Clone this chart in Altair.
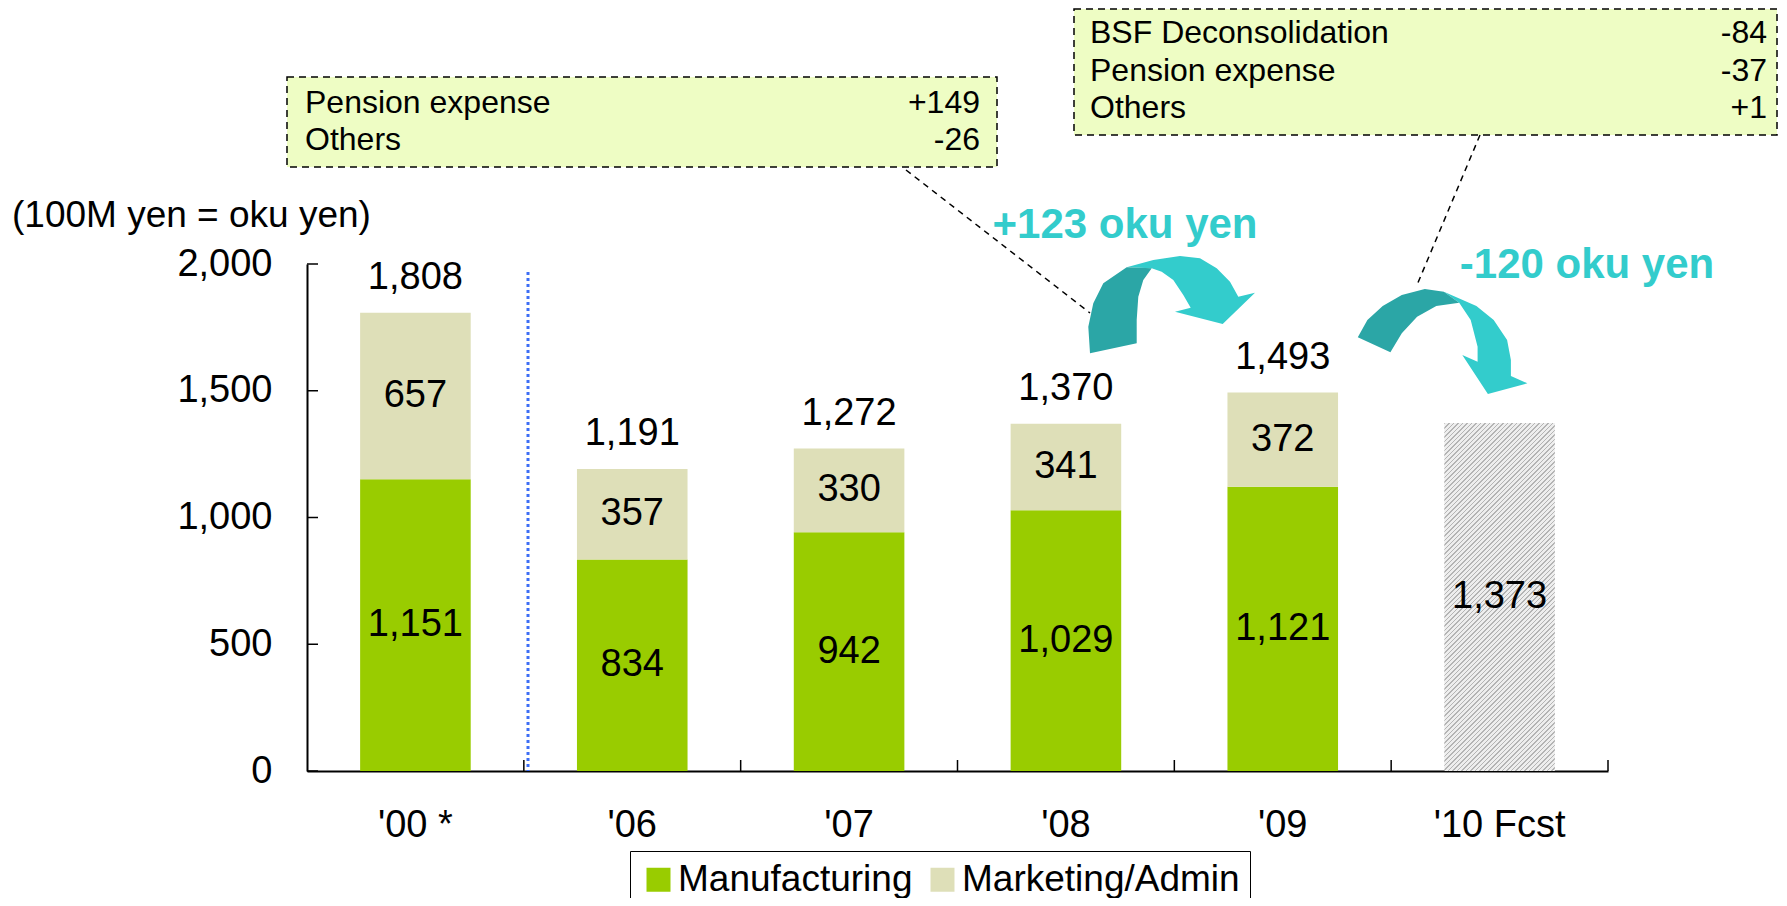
import altair as alt
import pandas as pd

# ---------------- data ----------------
years = ["'00 *", "'06", "'07", "'08", "'09", "'10 Fcst"]
actual_years = ["'00 *", "'06", "'07", "'08", "'09"]
manufacturing = [1151, 834, 942, 1029, 1121]
marketing_admin = [657, 357, 330, 341, 372]
forecast_year = ["'10 Fcst"]
forecast_total = [1373]
segments = ["Manufacturing", "Marketing/Admin"]
y_ticks = [0, 500, 1000, 1500, 2000]
y_title = "(100M yen = oku yen)"
box1_items = ["Pension expense", "Others"]
box1_values = ["+149", "-26"]
box2_items = ["BSF Deconsolidation", "Pension expense", "Others"]
box2_values = ["-84", "-37", "+1"]
change_labels = ["+123 oku yen", "-120 oku yen"]

# ---------------- style ----------------
FONT = "Liberation Sans, Arial, Helvetica, sans-serif"
W, H = 1301, 507
PAD = {"left": 299, "top": 256, "right": 171, "bottom": 127}
PAD_INNER = 0.49
STEP = W / len(years)
FS = 38
GREEN = "#99CC00"
BEIGE = "#DEDFB8"
BOX_FILL = "#EEFDC4"
TEAL = "#33CCCC"
TEAL_DARK = "#2BA6A6"
BLUE = "#3D6EF5"

# hatch pattern for forecast bar, emulated with a hard-stop linear gradient
bar_w = STEP * (1 - PAD_INNER)
bar_h = forecast_total[0] / 2000 * H
ratio = bar_h / bar_w
span = bar_w * (1 + ratio * ratio)
period, stripe = 4.5, 1.7
stops = []
s = 0.0
while s < bar_w + bar_h + period:
    a, b, c = s / span, (s + stripe) / span, (s + period) / span
    stops += [alt.GradientStop(color="#B4B4B4", offset=a),
              alt.GradientStop(color="#B4B4B4", offset=b),
              alt.GradientStop(color="#EEEEEE", offset=b),
              alt.GradientStop(color="#EEEEEE", offset=c)]
    s += period
hatch = alt.LinearGradient(gradient="linear", stops=stops, x1=0, y1=0, x2=1, y2=ratio)

# curved arrow shapes (pixel units relative to their anchor; size=4 -> 1 unit = 1px)
arrow1_dark = [(-80, 53.3), (-81.7, 26.7), (-76.7, 3.3), (-66.7, -16.7), (-43.3, -32.7),
               (-18.3, -31.7), (-26.7, -20), (-31.7, -3.3), (-33.3, 20), (-33.3, 43.3)]
arrow1_light = [(-43.3, -32.7), (-16.7, -40), (10, -44), (30, -41.7), (46.7, -31.7),
                (60, -18.3), (68.3, -3.3), (85, -7.3), (52.7, 24), (5, 11.7),
                (20.7, 7.7), (13.3, -5), (3.3, -20), (-8.3, -28.3), (-18.3, -31.7)]
arrow2_dark = [(-82.2, -2.7), (-72.6, -20), (-57.3, -34), (-38.2, -45), (-15.2, -51),
               (3.9, -48.3), (19.2, -37.3), (-3.7, -34), (-22.9, -23.3), (-38.2, -6.7),
               (-49.6, 12.3)]
arrow2_light = [(3.9, -48.3), (36.4, -34), (53.7, -20), (67.1, 0), (70.9, 20), (70.9, 36),
                (87.4, 43.3), (47.9, 54), (22.3, 15), (37.6, 21.7), (37.6, 6.7),
                (30.7, -20), (19.2, -37.3)]


def to_path(pts):
    return "M" + " L".join(f"{x:.1f},{y:.1f}" for x, y in pts) + " Z"


# ---------------- tables ----------------
rows = []
for yr, m, k in zip(actual_years, manufacturing, marketing_admin):
    rows.append({"year": yr, "segment": segments[0], "value": m, "order": 0})
    rows.append({"year": yr, "segment": segments[1], "value": k, "order": 1})
seg_df = pd.DataFrame(rows)
tot_df = pd.DataFrame({"year": actual_years,
                       "total": [m + k for m, k in zip(manufacturing, marketing_admin)]})
fc_df = pd.DataFrame({"year": forecast_year, "value": forecast_total})

x_scale = alt.Scale(domain=years, paddingInner=PAD_INNER, paddingOuter=PAD_INNER / 2)
y_scale = alt.Scale(domain=[0, 2000], nice=False, zero=True)

x_axis = alt.Axis(title=None, ticks=False, tickSize=0, labelPadding=35, labelFontSize=FS,
                  labelColor="black", labelAngle=0, domainColor="black", domainWidth=2,
                  grid=False, labelLimit=400)
y_axis = alt.Axis(title=None, values=y_ticks, ticks=False, tickSize=0, labelPadding=35,
                  labelFontSize=FS, labelColor="black", domainColor="black", domainWidth=2,
                  grid=False, format=",.0f")

legend = alt.Legend(orient="none", legendX=323, legendY=587, direction="horizontal",
                    title=None, padding=10, strokeColor="black", symbolType="square",
                    symbolSize=576, symbolStrokeWidth=0, labelFontSize=37, labelOffset=1,
                    columnPadding=11, labelLimit=500, labelColor="black")


def xenc():
    return alt.X("year:N", scale=x_scale, axis=x_axis)


def yenc(field):
    return alt.Y(field, scale=y_scale, axis=y_axis)


bars = alt.Chart(seg_df).mark_bar().encode(
    x=xenc(),
    y=alt.Y("value:Q", scale=y_scale, axis=y_axis, stack="zero"),
    color=alt.Color("segment:N", scale=alt.Scale(domain=segments, range=[GREEN, BEIGE]),
                    legend=legend),
    order=alt.Order("order:Q", sort="ascending"),
)

fc_bar = alt.Chart(fc_df).mark_bar(fill=hatch).encode(x=xenc(), y=yenc("value:Q"))

seg_text = alt.Chart(seg_df).transform_stack(
    stack="value", groupby=["year"], as_=["v0", "v1"],
    sort=[alt.SortField(field="order", order="ascending")]
).transform_calculate(mid="(datum.v0 + datum.v1) / 2").mark_text(
    fontSize=FS, color="black", baseline="middle"
).encode(x=xenc(), y=yenc("mid:Q"), text=alt.Text("value:Q", format=","))

tot_text = alt.Chart(tot_df).mark_text(
    fontSize=FS, color="black", baseline="alphabetic", dy=-24
).encode(x=xenc(), y=yenc("total:Q"), text=alt.Text("total:Q", format=","))

fc_text = alt.Chart(fc_df).transform_calculate(mid="datum.value / 2").mark_text(
    fontSize=FS, color="black", baseline="middle"
).encode(x=xenc(), y=yenc("mid:Q"), text=alt.Text("value:Q", format=","))

ytick = alt.Chart(pd.DataFrame({"v": y_ticks})).mark_rule(color="black", strokeWidth=1.5).encode(
    y=yenc("v:Q"), x=alt.value(0), x2=alt.value(11)
)
xtick = alt.Chart(pd.DataFrame({"year": years})).mark_rule(
    color="black", strokeWidth=1.5, xOffset=STEP / 2
).encode(x=xenc(), y=alt.value(H), y2=alt.value(H - 11))

one = pd.DataFrame({"t": [""]})


def text_at(txt, x, y, **kw):
    return alt.Chart(pd.DataFrame({"t": [txt]})).mark_text(**kw).encode(
        x=alt.value(x), y=alt.value(y), text="t:N")


def rect_at(x, x2, y, y2, **kw):
    return alt.Chart(one).mark_rect(**kw).encode(
        x=alt.value(x), x2=alt.value(x2), y=alt.value(y), y2=alt.value(y2))


def line_at(x, y, x2, y2, **kw):
    return alt.Chart(one).mark_rule(**kw).encode(
        x=alt.value(x), y=alt.value(y), x2=alt.value(x2), y2=alt.value(y2))


def shape_at(pts, x, y, color):
    return alt.Chart(one).mark_point(
        shape=to_path(pts), size=4, filled=True, color=color, opacity=1, strokeWidth=0
    ).encode(x=alt.value(x), y=alt.value(y))


box_style = dict(fill=BOX_FILL, stroke="black", strokeDash=[7, 5], strokeWidth=1.5)
lead_style = dict(color="black", strokeDash=[6, 5], strokeWidth=1.5)
box_txt = dict(fontSize=32, color="black", baseline="alphabetic")

layers = [
    bars, fc_bar,
    rect_at(-20, 690, -187, -97, **box_style),
    rect_at(767, 1470, -255, -129, **box_style),
    line_at(599, -94, 783, 49, **lead_style),
    line_at(1173, -129, 1110, 21, **lead_style),
    line_at(221, 8, 221, H, color=BLUE, strokeDash=[3, 3], strokeWidth=3),
    ytick, xtick, seg_text, tot_text, fc_text,
    text_at(y_title, -295, -37, fontSize=37, color="black", align="left", baseline="alphabetic"),
]
for i, (it, v) in enumerate(zip(box1_items, box1_values)):
    layers.append(text_at(it, -2, -151.3 + 37.5 * i, align="left", **box_txt))
    layers.append(text_at(v, 673, -151.3 + 37.5 * i, align="right", **box_txt))
for i, (it, v) in enumerate(zip(box2_items, box2_values)):
    layers.append(text_at(it, 783, -221 + 37.5 * i, align="left", **box_txt))
    layers.append(text_at(v, 1460, -221 + 37.5 * i, align="right", **box_txt))

layers += [
    shape_at(arrow1_light, 863, 36, TEAL),
    shape_at(arrow1_dark, 863, 36, TEAL_DARK),
    shape_at(arrow2_light, 1133, 76, TEAL),
    shape_at(arrow2_dark, 1133, 76, TEAL_DARK),
    text_at(change_labels[0], 818, -26, fontSize=42, fontWeight="bold", color=TEAL,
            align="center", baseline="alphabetic"),
    text_at(change_labels[1], 1280, 14, fontSize=42, fontWeight="bold", color=TEAL,
            align="center", baseline="alphabetic"),
]

chart = alt.layer(*layers).properties(
    width=W, height=H, padding=PAD, autosize=alt.AutoSizeParams(type="none")
).configure(font=FONT).configure_view(stroke=None)

chart.save("out.html", embed_options={"renderer": "svg", "actions": False})
